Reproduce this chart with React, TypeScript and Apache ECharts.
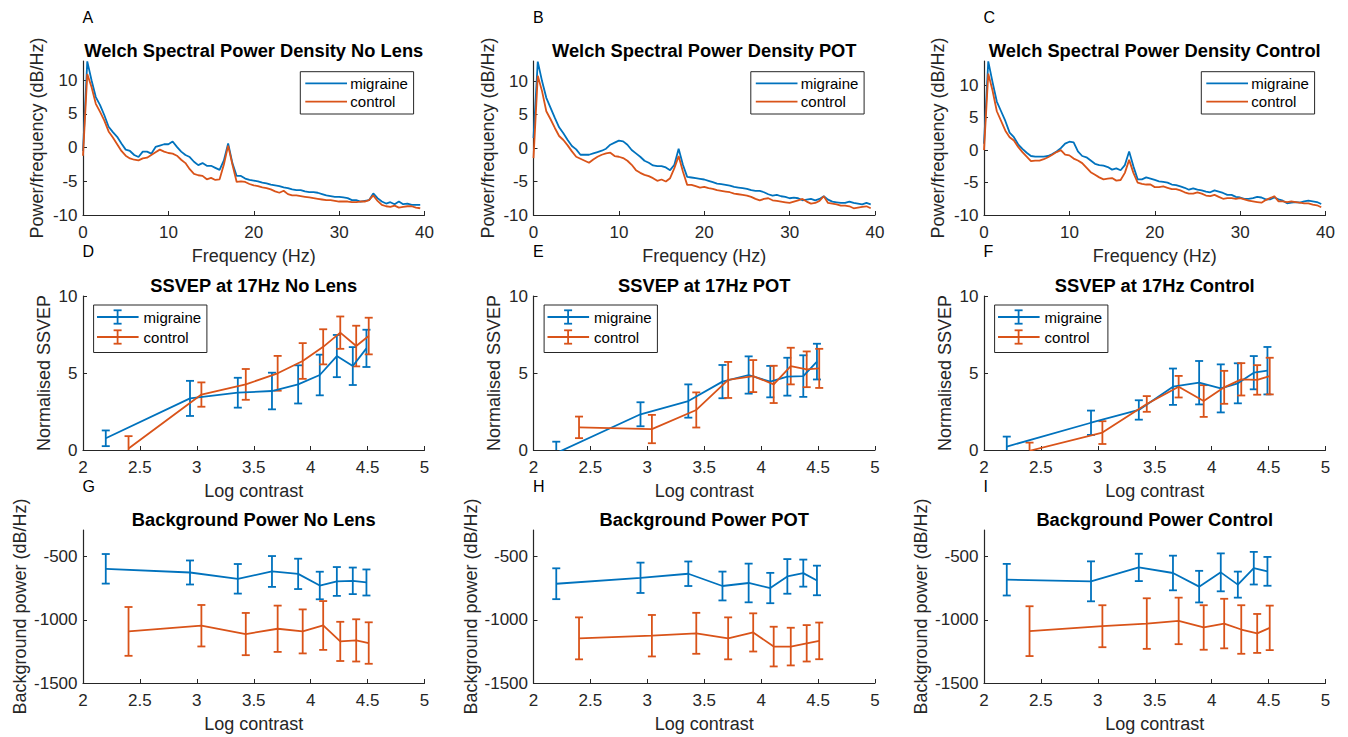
import React, { useEffect, useRef } from 'react';
import * as echarts from 'echarts';

// ---------------- DATA ----------------
const freqs = [
  0, 0.5, 1, 1.5, 2, 2.5, 3, 3.5, 4, 4.5, 5, 5.5, 6, 6.5, 7, 7.5, 8, 8.5, 9, 9.5,
  10, 10.5, 11, 11.5, 12, 12.5, 13, 13.5, 14, 14.5, 15, 15.5, 16, 16.5, 17, 17.5, 18, 18.5, 19, 19.5,
  20, 20.5, 21, 21.5, 22, 22.5, 23, 23.5, 24, 24.5, 25, 25.5, 26, 26.5, 27, 27.5, 28, 28.5, 29, 29.5,
  30, 30.5, 31, 31.5, 32, 32.5, 33, 33.5, 34, 34.5, 35, 35.5, 36, 36.5, 37, 37.5, 38, 38.5, 39, 39.5,
];

const psdNoLensMigraine = [
  -0.5, 12.8, 10, 7.5, 6.3, 4.8, 3.1, 2.3, 1.6, 0.6, -0.3, -0.5, -1.1, -1.4, -0.6, -0.6, -0.9, 0.1, 0.3, 0.5,
  0.5, 0.9, 0.1, -0.6, -1.1, -1.4, -2.1, -2.6, -2.3, -2.7, -2.7, -3.0, -3.3, -1.9, 0.6, -2.3, -4.2, -4.2, -4.6, -4.8,
  -4.9, -5.0, -5.2, -5.3, -5.5, -5.6, -5.7, -5.9, -6.0, -6.2, -6.3, -6.3, -6.5, -6.6, -6.6, -6.7, -6.9, -7.1, -7.2, -7.3,
  -7.3, -7.4, -7.5, -7.8, -7.8, -8.0, -7.9, -7.8, -6.8, -7.5, -8.0, -8.3, -8.1, -8.4, -8.0, -8.4, -8.3, -8.5, -8.5, -8.5,
];
const psdNoLensControl = [
  -1.2, 10.9, 9, 6.5, 5.3, 4, 2.4, 1.5, 0.5, -0.5, -1.2, -1.6, -1.8, -1.9, -1.6, -1.5, -1.1, -0.7, -0.3, -0.6,
  -0.8, -0.9, -1.2, -1.8, -2.3, -3.2, -3.9, -4.1, -4.2, -4.7, -4.5, -4.8, -4.7, -2.5, 0.3, -2.5, -5.1, -5.0, -5.1, -5.4,
  -5.6, -5.7, -5.9, -6.0, -6.2, -6.5, -6.7, -6.4, -6.9, -7.1, -7.1, -7.2, -7.3, -7.4, -7.5, -7.6, -7.7, -7.8, -7.8, -7.9,
  -8.0, -8.0, -8.0, -8.1, -8.1, -8.0, -8.0, -7.8, -7.1, -7.9, -8.5, -8.7, -8.8, -8.6, -8.9, -8.8, -8.7, -8.7, -8.9, -9.0,
];
const psdPotMigraine = [
  1.5, 12.9, 10, 7.5, 6, 4.5, 3.1, 2.2, 1.2, 0.3, -0.2, -1, -1, -1, -0.8, -0.6, -0.4, -0.1, 0.5, 0.8,
  1.1, 1.0, 0.5, -0.3, -0.8, -1.3, -1.9, -2.2, -2.6, -2.7, -2.7, -2.9, -3.3, -2.5, -0.1, -2.5, -4.3, -4.4, -4.5, -4.6,
  -4.7, -4.9, -5.1, -5.3, -5.4, -5.5, -5.6, -5.8, -5.9, -6.0, -6.1, -6.3, -6.4, -6.4, -6.6, -6.9, -7.1, -7.0, -7.2, -7.3,
  -7.5, -7.4, -7.5, -7.8, -7.7, -7.6, -7.8, -7.6, -7.2, -7.7, -8.0, -8.1, -8.2, -8.2, -8.0, -8.2, -8.3, -8.4, -8.2, -8.4,
];
const psdPotControl = [
  -1.5, 10.8, 8.5, 5.5, 4.3, 3, 1.8, 1.2, 0.4, -0.5, -1.3, -1.6, -1.9, -2.2, -1.7, -1.3, -1, -0.8, -0.7, -1.2,
  -1.3, -1.5, -1.9, -2.5, -3.3, -3.7, -4, -4.2, -4.5, -4.9, -4.7, -5, -4.5, -3, -1.2, -3.5, -5.5, -5.5, -5.7, -5.9,
  -5.8, -6.0, -6.1, -6.3, -6.4, -6.5, -6.6, -6.8, -6.9, -7.0, -7.1, -7.3, -7.6, -7.8, -7.6, -7.5, -7.8, -7.9, -8.0, -8.1,
  -8.2, -8.0, -7.8, -7.6, -8.0, -8.3, -8.2, -7.9, -7.2, -8.2, -8.3, -8.4, -8.6, -8.6, -8.7, -9.0, -8.9, -8.8, -8.7, -9.0,
];
const psdControlMigraine = [
  1.0, 13.7, 10.5, 7.5, 6, 4.5, 2.7, 2, 0.9, 0.2, -0.4, -0.9, -1, -1, -1, -0.9, -0.6, -0.2, 0.3, 1,
  1.3, 1.2, -0.2, -0.9, -1.1, -1.6, -2.1, -2.3, -2.4, -2.6, -3, -2.8, -3.1, -2.3, -0.2, -2.5, -4.5, -4.5, -4.2, -4.4,
  -4.6, -4.8, -4.9, -5.0, -5.3, -5.4, -5.6, -5.8, -6.1, -5.9, -6.1, -6.2, -6.4, -6.5, -6.2, -6.4, -6.6, -6.9, -6.9, -7.2,
  -7.3, -7.5, -7.5, -7.4, -7.2, -7.3, -7.6, -7.6, -7.3, -7.6, -7.8, -8.2, -8.1, -8.0, -8.1, -7.9, -7.8, -7.9, -8.0, -8.3,
];
const psdControlControl = [
  0, 11.8, 9.2, 6, 4.5, 3, 2, 1.5, 0.5, -0.3, -1, -1.7, -1.6, -1.6, -1.4, -1.1, -0.7, -0.3, 0, -0.7,
  -0.8, -1.3, -1.6, -2, -2.7, -3.4, -3.8, -4.2, -4.5, -4.4, -4.3, -4.7, -4.6, -3.5, -1.5, -3.5, -5, -5.2, -5.3, -5.3,
  -5.7, -5.7, -5.6, -5.8, -6.0, -6.0, -6.2, -6.5, -6.7, -6.7, -6.5, -6.7, -7.0, -7.1, -6.9, -7.2, -7.5, -7.4, -7.4, -7.5,
  -7.4, -7.6, -7.8, -7.9, -8.0, -8.1, -7.7, -7.4, -7.1, -7.9, -7.9, -8.0, -7.9, -8.0, -8.1, -8.2, -8.2, -8.4, -8.5, -8.8,
];
const psdYMax = [12.85, 13.0, 13.75];
const psdYTicks = [-10, -5, 0, 5, 10];
const psdXTicks = [0, 10, 20, 30, 40];

const xMigraine = [2.2, 2.94, 3.36, 3.66, 3.89, 4.08, 4.23, 4.37, 4.49];
const xControl = [2.4, 3.04, 3.43, 3.71, 3.93, 4.11, 4.26, 4.4, 4.51];

const ssvepNoLensMigraineMean = [0.76, 3.35, 3.72, 3.83, 4.26, 4.87, 6.1, 5.45, 6.6];
const ssvepNoLensMigraineErr = [0.51, 1.14, 0.97, 1.19, 1.24, 1.32, 1.37, 1.23, 1.21];
const ssvepNoLensControlMean = [0.1, 3.6, 4.26, 4.98, 5.78, 6.7, 7.62, 6.75, 7.4];
const ssvepNoLensControlErr = [0.8, 0.79, 1.0, 1.13, 1.16, 1.14, 1.05, 1.32, 1.19];
const ssvepPotMigraineMean = [-0.2, 2.32, 3.18, 4.44, 4.87, 4.44, 4.76, 4.8, 5.74];
const ssvepPotMigraineErr = [0.74, 0.78, 1.08, 1.08, 1.21, 1.02, 1.23, 1.35, 1.16];
const ssvepPotControlMean = [1.47, 1.36, 2.6, 4.55, 4.8, 4.26, 5.45, 5.24, 5.3];
const ssvepPotControlErr = [0.7, 0.92, 1.14, 1.17, 1.04, 1.21, 1.19, 1.16, 1.27];
const ssvepControlMigraineMean = [0.22, 1.77, 2.6, 4.11, 4.37, 4.0, 4.33, 5.02, 5.15];
const ssvepControlMigraineErr = [0.65, 0.79, 0.63, 1.18, 1.41, 1.56, 1.3, 1.08, 1.54];
const ssvepControlControlMean = [-0.05, 1.13, 2.99, 4.11, 3.18, 4.07, 4.59, 4.55, 4.8];
const ssvepControlControlErr = [0.53, 0.74, 0.51, 0.7, 1.03, 1.07, 1.05, 0.96, 1.19];

const bgNoLensMigraineMean = [-597, -626, -676, -618, -637, -729, -697, -692, -705];
const bgNoLensMigraineErr = [117, 95, 117, 122, 120, 109, 114, 105, 103];
const bgNoLensControlMean = [-1092, -1047, -1113, -1071, -1092, -1045, -1171, -1163, -1184];
const bgNoLensControlErr = [193, 164, 167, 183, 174, 193, 155, 167, 164];
const bgPotMigraineMean = [-715, -668, -636, -733, -709, -749, -657, -631, -689];
const bgPotMigraineErr = [122, 120, 97, 114, 153, 120, 137, 107, 117];
const bgPotControlMean = [-1147, -1126, -1107, -1147, -1100, -1212, -1212, -1186, -1167];
const bgPotControlErr = [166, 164, 162, 166, 151, 157, 149, 144, 145];
const bgControlMigraineMean = [-683, -696, -586, -630, -738, -625, -722, -592, -617];
const bgControlMigraineErr = [125, 158, 108, 137, 125, 150, 103, 129, 114];
const bgControlControlMean = [-1090, -1051, -1030, -1009, -1061, -1030, -1077, -1108, -1064];
const bgControlControlErr = [197, 166, 200, 184, 176, 196, 192, 154, 176];
const bgYTicks = [-1500, -1000, -500];

const psdTitles = ['Welch Spectral Power Density No Lens', 'Welch Spectral Power Density POT', 'Welch Spectral Power Density Control'];
const ssvepTitles = ['SSVEP at 17Hz No Lens', 'SSVEP at 17Hz POT', 'SSVEP at 17Hz Control'];
const bgTitles = ['Background Power No Lens', 'Background Power POT', 'Background Power Control'];
const panelLetters = [['A', 'B', 'C'], ['D', 'E', 'F'], ['G', 'H', 'I']];
const groupNames = ['migraine', 'control'];

// ---------------- STYLE / LAYOUT ----------------
const FONT = "'Liberation Sans', Arial, Helvetica, sans-serif";
const AX = '#262626';
const BLUE = '#0072BD';
const ORANGE = '#D95319';
const LW = 1.8;
const colLeft = [83, 533.5, 984];
const gridW = 341.5;
const rowTop = [61, 296, 530];
const rowH = [154, 154, 153];
const titleY = [50.6, 285.2, 519.8];
const letterY = [17, 251.5, 486];
const yNames = ['Power/frequency (dB/Hz)', 'Normalised SSVEP', 'Background power (dB/Hz)'];
const yNameGaps = [46, 39.3, 62.7];
const xNames = ['Frequency (Hz)', 'Log contrast', 'Log contrast'];

const plainNum = (v: number) => String(v);

function makeErrRender(color: string) {
  return (params: any, api: any) => {
    const cs = params.coordSys;
    const x = api.value(0);
    const lo = api.value(1);
    const hi = api.value(2);
    const pLo = api.coord([x, lo]);
    const pHi = api.coord([x, hi]);
    const top = cs.y;
    const bottom = cs.y + cs.height;
    const cx = pLo[0];
    const yTop = Math.max(pHi[1], top);
    const yBot = Math.min(pLo[1], bottom);
    const style = { stroke: color, lineWidth: LW, fill: null };
    const hw = 4;
    const children: any[] = [];
    if (yBot > yTop) children.push({ type: 'line', shape: { x1: cx, y1: yTop, x2: cx, y2: yBot }, style });
    if (pHi[1] >= top - 0.5 && pHi[1] <= bottom + 0.5)
      children.push({ type: 'line', shape: { x1: cx - hw, y1: pHi[1], x2: cx + hw, y2: pHi[1] }, style });
    if (pLo[1] >= top - 0.5 && pLo[1] <= bottom + 0.5)
      children.push({ type: 'line', shape: { x1: cx - hw, y1: pLo[1], x2: cx + hw, y2: pLo[1] }, style });
    return { type: 'group', children };
  };
}

function textEl(text: string, x: number, y: number, size: number, weight: string, align: string, color = '#000') {
  return {
    type: 'text',
    z: 100,
    style: {
      text,
      x,
      y,
      fill: color,
      fontSize: size,
      fontFamily: FONT,
      fontWeight: weight,
      align,
      verticalAlign: 'middle',
      textAlign: align,
      textVerticalAlign: 'middle',
    },
  };
}

function buildOption() {
  const grid: any[] = [];
  const xAxis: any[] = [];
  const yAxis: any[] = [];
  const series: any[] = [];
  const graphic: any[] = [];

  const psdSets = [
    [psdNoLensMigraine, psdNoLensControl],
    [psdPotMigraine, psdPotControl],
    [psdControlMigraine, psdControlControl],
  ];
  const ssvepSets = [
    [ssvepNoLensMigraineMean, ssvepNoLensMigraineErr, ssvepNoLensControlMean, ssvepNoLensControlErr],
    [ssvepPotMigraineMean, ssvepPotMigraineErr, ssvepPotControlMean, ssvepPotControlErr],
    [ssvepControlMigraineMean, ssvepControlMigraineErr, ssvepControlControlMean, ssvepControlControlErr],
  ];
  const bgSets = [
    [bgNoLensMigraineMean, bgNoLensMigraineErr, bgNoLensControlMean, bgNoLensControlErr],
    [bgPotMigraineMean, bgPotMigraineErr, bgPotControlMean, bgPotControlErr],
    [bgControlMigraineMean, bgControlMigraineErr, bgControlControlMean, bgControlControlErr],
  ];
  const titles = [psdTitles, ssvepTitles, bgTitles];

  for (let r = 0; r < 3; r++) {
    for (let c = 0; c < 3; c++) {
      const gi = r * 3 + c;
      const L = colLeft[c];
      const T = rowTop[r];
      grid.push({ left: L, top: T, width: gridW, height: rowH[r], containLabel: false, outerBoundsMode: 'none' });

      const axisLine = { show: true, onZero: false, lineStyle: { color: AX, width: 1.2 } };
      const axisTickBase = { show: true, inside: true, length: 4, lineStyle: { color: AX, width: 1 } };
      const labelBase = { color: AX, fontSize: 17, fontFamily: FONT, formatter: plainNum };
      const nameStyle = { color: AX, fontSize: 18, fontFamily: FONT, verticalAlign: 'middle' };

      const xBase: any = {
        gridIndex: gi,
        type: 'value',
        axisLine,
        axisTick: axisTickBase,
        axisLabel: { ...labelBase, margin: 8.5 },
        splitLine: { show: false },
        name: xNames[r],
        nameLocation: 'middle',
        nameGap: 41,
        nameTextStyle: nameStyle,
      };
      const yBase: any = {
        gridIndex: gi,
        type: 'value',
        axisLine,
        axisTick: axisTickBase,
        axisLabel: { ...labelBase, margin: 5.5 },
        splitLine: { show: false },
        name: yNames[r],
        nameLocation: 'middle',
        nameGap: yNameGaps[r],
        nameTextStyle: nameStyle,
      };

      if (r === 0) {
        xAxis.push({ ...xBase, min: 0, max: 40, interval: 10,
          axisTick: { ...axisTickBase, customValues: psdXTicks },
          axisLabel: { ...xBase.axisLabel, customValues: psdXTicks } });
        yAxis.push({ ...yBase, min: -10, max: psdYMax[c], interval: 5,
          axisTick: { ...axisTickBase, customValues: psdYTicks },
          axisLabel: { ...yBase.axisLabel, customValues: psdYTicks } });
        const [m, ctl] = psdSets[c];
        [m, ctl].forEach((vals, k) => {
          series.push({
            type: 'line',
            name: groupNames[k],
            xAxisIndex: gi,
            yAxisIndex: gi,
            data: freqs.map((f, i) => [f, vals[i]]),
            showSymbol: false,
            symbol: 'none',
            lineStyle: { color: k === 0 ? BLUE : ORANGE, width: LW },
            itemStyle: { color: k === 0 ? BLUE : ORANGE },
            clip: true,
            silent: true,
          });
        });
        // legend
        const ly1 = T + 22.3;
        const ly2 = T + 40.7;
        graphic.push({ type: 'rect', z: 99, shape: { x: L + 217.3, y: T + 10.7, width: 113.3, height: 42.3 }, style: { fill: '#fff', stroke: AX, lineWidth: 1 } });
        graphic.push({ type: 'line', z: 100, shape: { x1: L + 222.3, y1: ly1, x2: L + 264, y2: ly1 }, style: { stroke: BLUE, lineWidth: LW } });
        graphic.push({ type: 'line', z: 100, shape: { x1: L + 222.3, y1: ly2, x2: L + 264, y2: ly2 }, style: { stroke: ORANGE, lineWidth: LW } });
        graphic.push(textEl(groupNames[0], L + 267.3, ly1, 15, 'normal', 'left'));
        graphic.push(textEl(groupNames[1], L + 267.3, ly2, 15, 'normal', 'left'));
      } else {
        xAxis.push({ ...xBase, min: 2, max: 5, interval: 0.5 });
        if (r === 1) {
          yAxis.push({ ...yBase, min: 0, max: 10, interval: 5 });
        } else {
          yAxis.push({ ...yBase, min: -1500, max: -290, interval: 500,
            axisTick: { ...axisTickBase, customValues: bgYTicks },
            axisLabel: { ...yBase.axisLabel, customValues: bgYTicks } });
        }
        const set = r === 1 ? ssvepSets[c] : bgSets[c];
        const groups = [
          { xs: xMigraine, mean: set[0], err: set[1], color: BLUE, name: groupNames[0] },
          { xs: xControl, mean: set[2], err: set[3], color: ORANGE, name: groupNames[1] },
        ];
        groups.forEach((g) => {
          series.push({
            type: 'line',
            name: g.name,
            xAxisIndex: gi,
            yAxisIndex: gi,
            data: g.xs.map((x, i) => [x, g.mean[i]]),
            showSymbol: false,
            symbol: 'none',
            lineStyle: { color: g.color, width: LW },
            itemStyle: { color: g.color },
            clip: true,
            silent: true,
          });
          series.push({
            type: 'custom',
            name: g.name,
            xAxisIndex: gi,
            yAxisIndex: gi,
            data: g.xs.map((x, i) => [x, g.mean[i] - g.err[i], g.mean[i] + g.err[i]]),
            encode: { x: 0, y: [1, 2] },
            renderItem: makeErrRender(g.color),
            clip: true,
            silent: true,
          });
        });
        if (r === 1) {
          const ly1 = T + 21;
          const ly2 = T + 41;
          const ex = L + 34.6;
          graphic.push({ type: 'rect', z: 99, shape: { x: L + 10.6, y: T + 9, width: 113.3, height: 47.5 }, style: { fill: '#fff', stroke: AX, lineWidth: 1 } });
          [[ly1, BLUE], [ly2, ORANGE]].forEach(([yy, col]: any) => {
            const st = { stroke: col, lineWidth: LW };
            graphic.push({ type: 'line', z: 100, shape: { x1: L + 14, y1: yy, x2: L + 55.6, y2: yy }, style: st });
            graphic.push({ type: 'line', z: 100, shape: { x1: ex, y1: yy - 6.7, x2: ex, y2: yy + 6.7 }, style: st });
            graphic.push({ type: 'line', z: 100, shape: { x1: ex - 4, y1: yy - 6.7, x2: ex + 4, y2: yy - 6.7 }, style: st });
            graphic.push({ type: 'line', z: 100, shape: { x1: ex - 4, y1: yy + 6.7, x2: ex + 4, y2: yy + 6.7 }, style: st });
          });
          graphic.push(textEl(groupNames[0], L + 60.6, ly1, 15, 'normal', 'left'));
          graphic.push(textEl(groupNames[1], L + 60.6, ly2, 15, 'normal', 'left'));
        }
      }

      // title and panel letter
      graphic.push(textEl(titles[r][c], L + gridW / 2, titleY[r], 18.3, 'bold', 'center'));
      graphic.push(textEl(panelLetters[r][c], L - 0.5, letterY[r], 16, 'normal', 'left'));
    }
  }

  return {
    animation: false,
    backgroundColor: '#ffffff',
    textStyle: { fontFamily: FONT },
    grid,
    xAxis,
    yAxis,
    series,
    graphic: { elements: graphic },
  };
}

export default function App() {
  const ref = useRef<HTMLDivElement | null>(null);
  useEffect(() => {
    if (!ref.current) return;
    const chart = echarts.init(ref.current, undefined, { renderer: 'svg' });
    chart.setOption(buildOption() as any);
    return () => {
      chart.dispose();
    };
  }, []);
  return (
    <div
      ref={ref}
      style={{ position: 'absolute', left: 0, top: 0, width: 1348, height: 737, background: '#ffffff' }}
    />
  );
}
